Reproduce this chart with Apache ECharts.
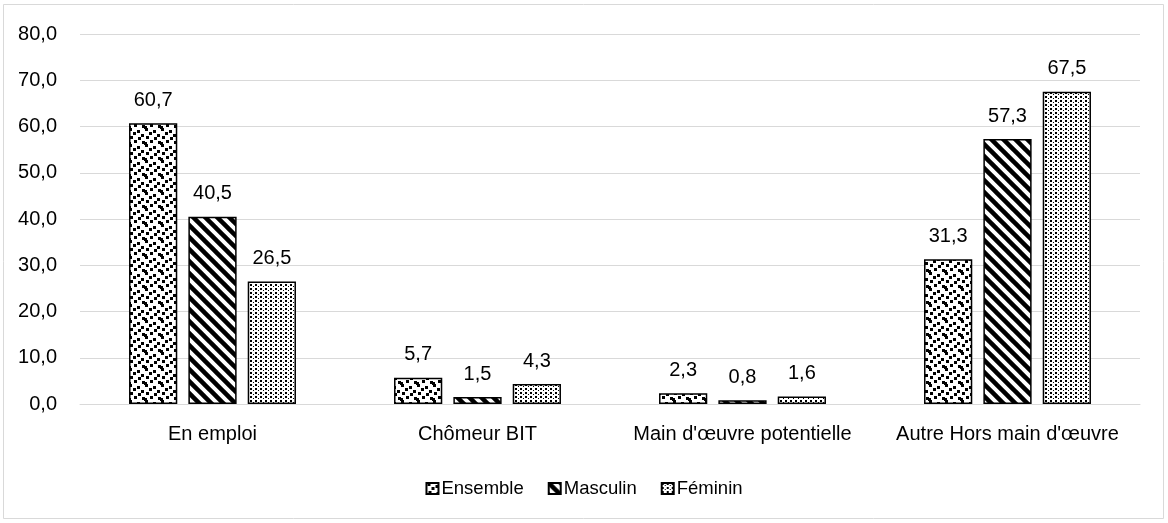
<!DOCTYPE html>
<html>
<head>
<meta charset="utf-8">
<script src="https://cdn.jsdelivr.net/npm/echarts@6/dist/echarts.min.js"></script>
<style>
  html, body { margin: 0; padding: 0; background: #ffffff; }
  #chart { width: 1168px; height: 523px; }
</style>
</head>
<body>
<div id="chart"></div>
<script>
// Activity status by sex (%)
const categories = ['En emploi', 'Chômeur BIT', "Main d'œuvre potentielle", "Autre Hors main d'œuvre"];
const seriesNames = ['Ensemble', 'Masculin', 'Féminin'];
const ensemble = [60.7, 5.7, 2.3, 31.3];
const masculin = [40.5, 1.5, 0.8, 57.3];
const feminin = [26.5, 4.3, 1.6, 67.5];
const yTicks = { min: 0, max: 80, interval: 10 };

const FONT = "'Liberation Sans', Arial, sans-serif";

// Tile builders for the monochrome fills
function tile(w, h, draw) {
  const c = document.createElement('canvas');
  c.width = w; c.height = h;
  const g = c.getContext('2d');
  g.fillStyle = '#ffffff';
  g.fillRect(0, 0, w, h);
  g.fillStyle = '#000000';
  g.strokeStyle = '#000000';
  draw(g, w, h);
  return c;
}

// Scattered confetti squares (wrapped so the tile repeats seamlessly)
const confetti = tile(16, 16, g => {
  const sq = [[1,0],[9,2],[5,4],[13,6],[2,8],[10,9],[6,12],[14,13],[0,14]];
  sq.forEach(p => {
    for (const dx of [-16, 0])
      for (const dy of [-16, 0])
        g.fillRect(p[0] + dx, p[1] + dy, 3, 3);
  });
});

// Wide downward diagonal stripes
const stripes = tile(12, 12, g => {
  g.lineWidth = 4.5;
  g.lineCap = 'square';
  for (let k = -2; k <= 2; k++) {
    g.beginPath();
    g.moveTo(k * 12 - 12, -12);
    g.lineTo(k * 12 + 24, 24);
    g.stroke();
  }
});

// Fine dotted grid
const dots = tile(5, 4, g => {
  g.fillRect(0, 0, 2, 2);
  g.fillRect(3, 2, 1, 1);
});

const fills = [confetti, stripes, dots].map(c => ({ image: c, repeat: 'repeat' }));
const values = [ensemble, masculin, feminin];

const chart = echarts.init(document.getElementById('chart'), null, { renderer: 'canvas' });

const fmt = v => v.toFixed(1).replace('.', ',');

chart.setOption({
  animation: false,
  backgroundColor: '#ffffff',
  textStyle: { fontFamily: FONT },
  graphic: [{
    type: 'rect',
    shape: { x: 3.5, y: 4.5, width: 1160, height: 514 },
    style: { fill: 'none', stroke: '#d9d9d9', lineWidth: 1 },
    silent: true, z: -1
  }],
  grid: { left: 80, right: 28, top: 34, bottom: 119 },
  legend: {
    data: seriesNames,
    top: 474,
    left: 'center',
    icon: 'rect',
    itemWidth: 12,
    itemHeight: 11,
    itemGap: 24,
    textStyle: { fontFamily: FONT, fontSize: 18.5, color: '#000000', padding: [0, 0, 0, -2] }
  },
  xAxis: {
    type: 'category',
    data: categories,
    axisLine: { show: true, lineStyle: { color: '#d9d9d9', width: 1 } },
    axisTick: { show: false },
    axisLabel: { interval: 0, margin: 20, fontFamily: FONT, fontSize: 20, color: '#000000' }
  },
  yAxis: {
    type: 'value',
    min: yTicks.min, max: yTicks.max, interval: yTicks.interval,
    axisLine: { show: false },
    axisTick: { show: false },
    splitLine: { lineStyle: { color: '#d9d9d9', width: 1 } },
    axisLabel: { margin: 23, fontFamily: FONT, fontSize: 20, color: '#000000', formatter: v => fmt(v) }
  },
  series: seriesNames.map((name, i) => ({
    name: name,
    type: 'bar',
    data: values[i],
    barGap: '23%',
    barCategoryGap: '37%',
    itemStyle: { color: fills[i], borderColor: '#000000', borderWidth: 1.5 },
    label: {
      show: true,
      position: 'top',
      distance: 13,
      fontFamily: FONT,
      fontSize: 20,
      color: '#000000',
      formatter: p => fmt(p.value)
    }
  }))
});
</script>
</body>
</html>
